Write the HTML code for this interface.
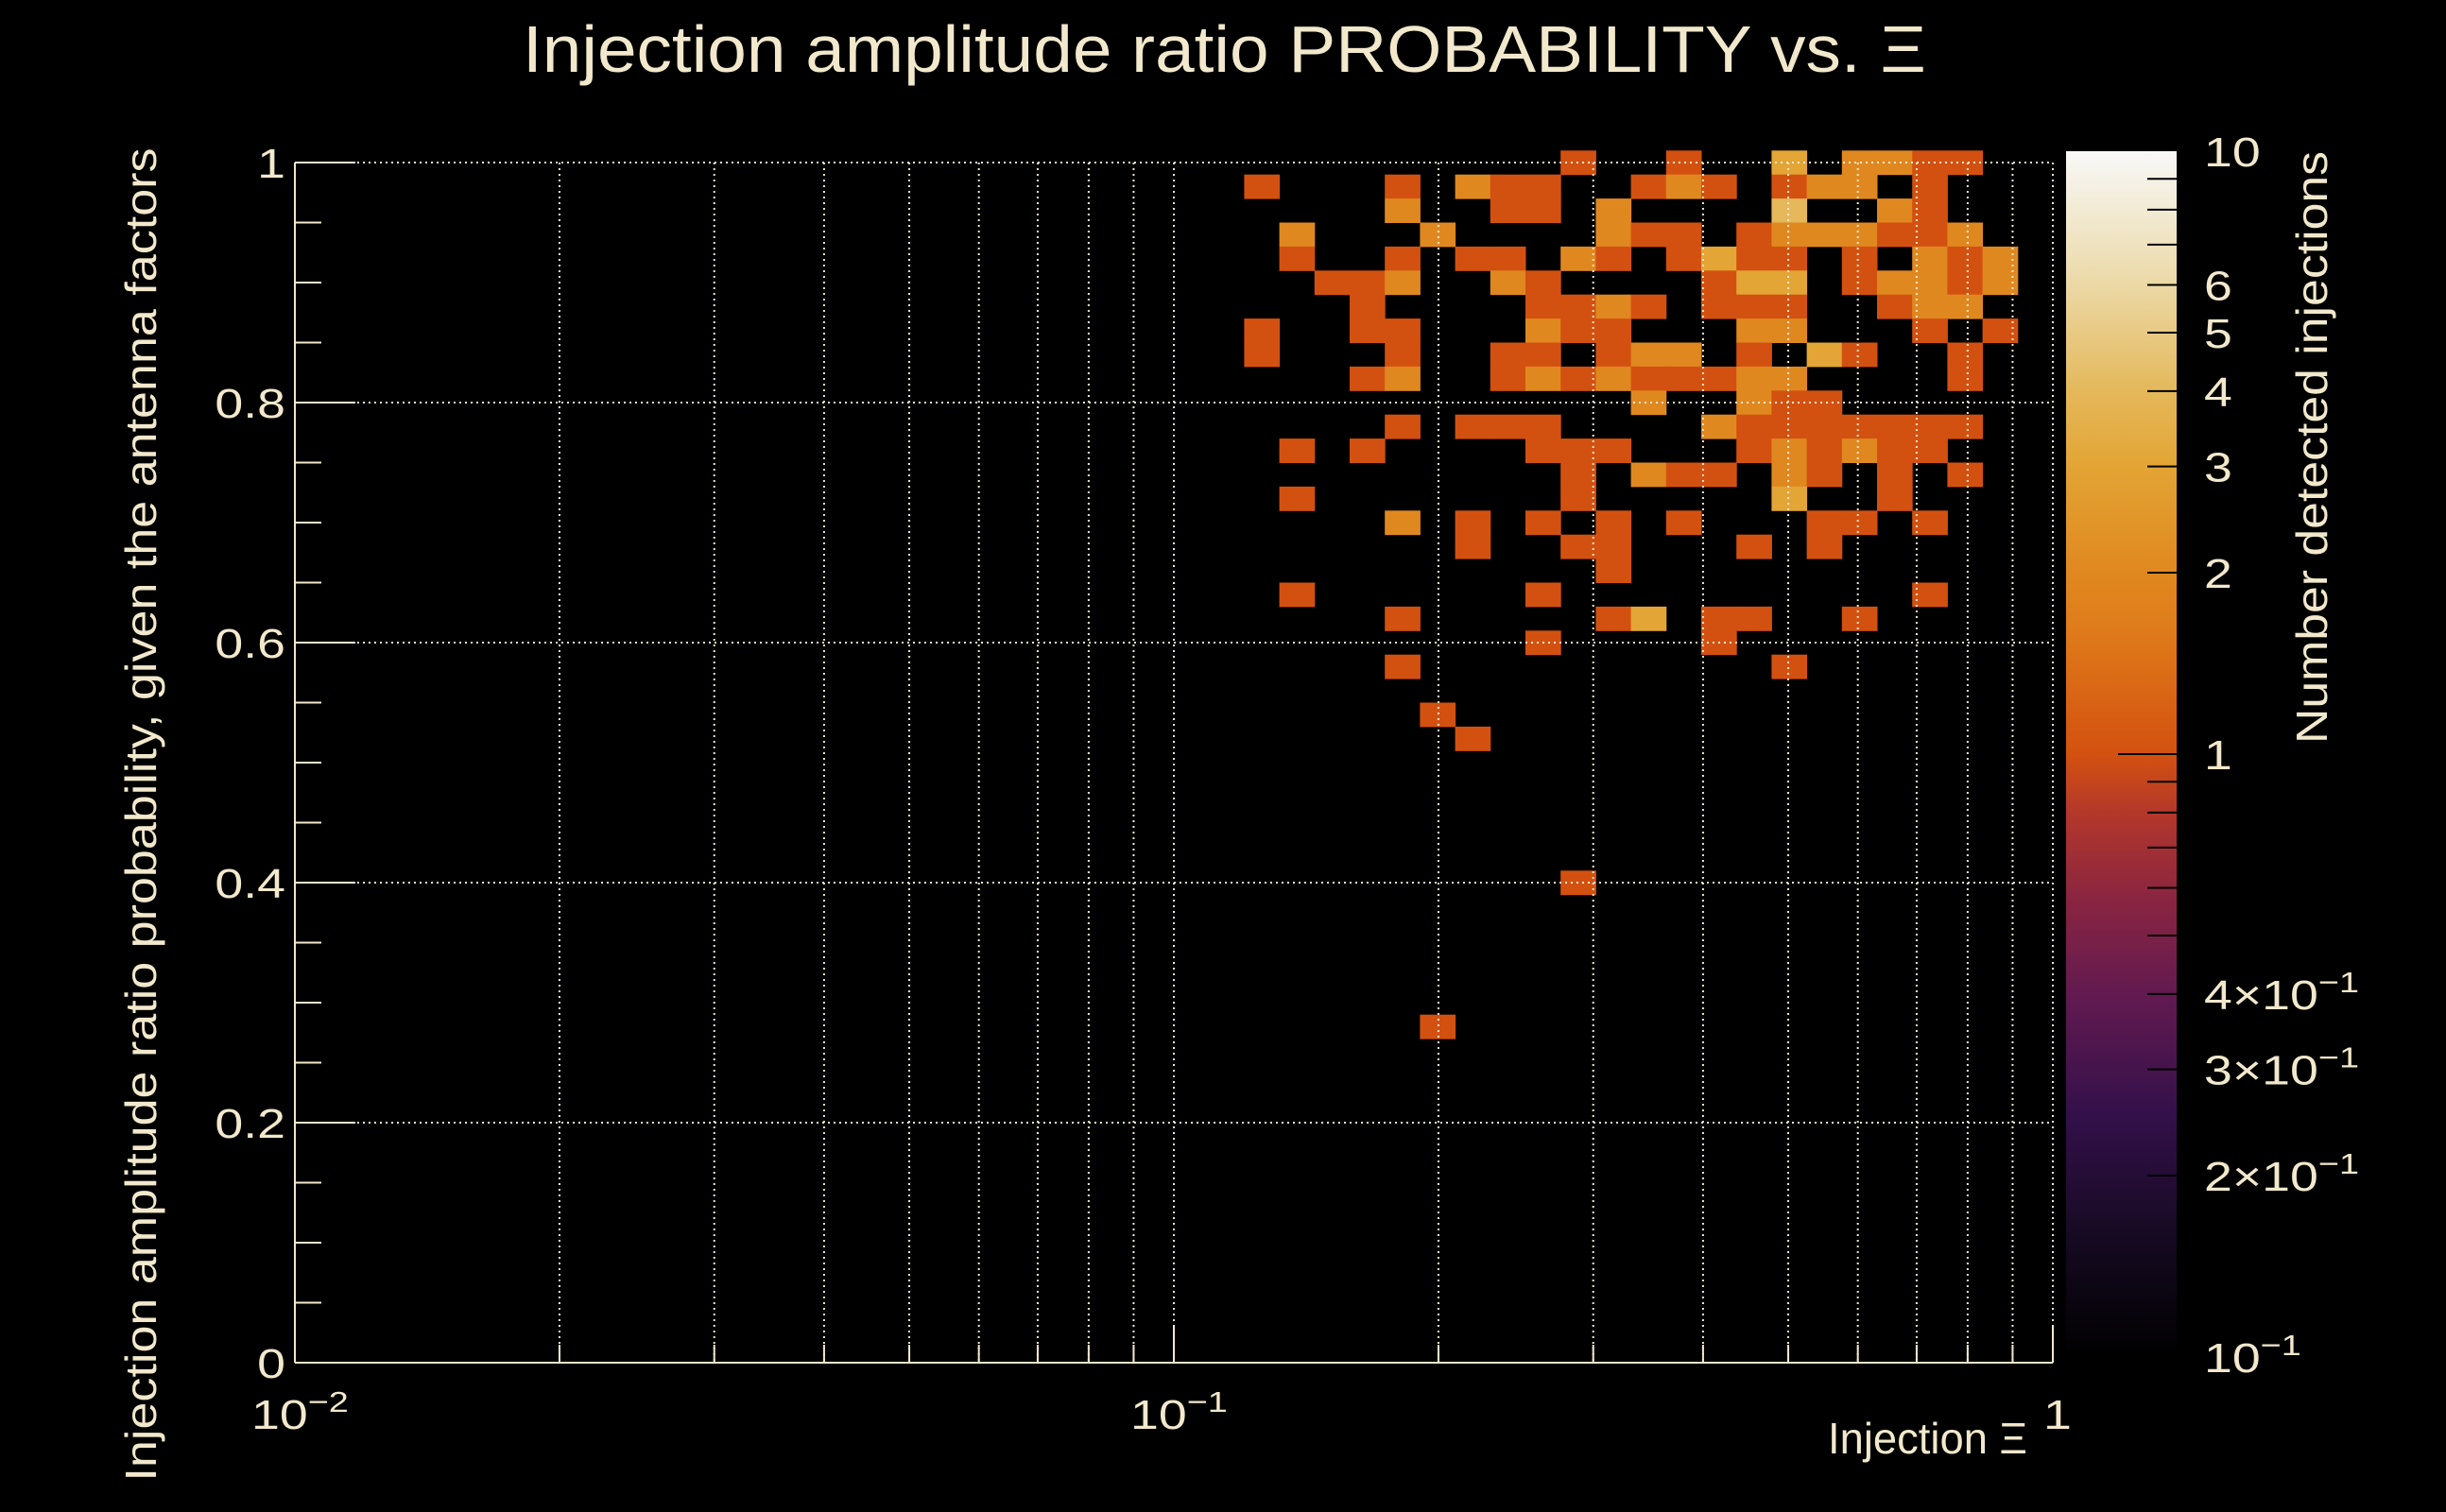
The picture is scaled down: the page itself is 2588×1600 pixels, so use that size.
<!DOCTYPE html>
<html><head><meta charset="utf-8">
<style>
html,body{margin:0;padding:0;background:#000;}
svg{display:block;}
text{font-family:"Liberation Sans",sans-serif;fill:#f2e8cc;}
</style></head>
<body>
<svg id="chart" width="2588" height="1600" viewBox="0 0 2588 1600" xmlns="http://www.w3.org/2000/svg">
<defs>
<linearGradient id="cbar" x1="0" y1="1" x2="0" y2="0">
<stop offset="0" stop-color="#000000"/>
<stop offset="0.1" stop-color="#160a22"/>
<stop offset="0.2" stop-color="#33104a"/>
<stop offset="0.3" stop-color="#621a50"/>
<stop offset="0.38" stop-color="#8a2541"/>
<stop offset="0.45" stop-color="#b3372b"/>
<stop offset="0.5" stop-color="#d35110"/>
<stop offset="0.6" stop-color="#df7a1a"/>
<stop offset="0.65" stop-color="#e08820"/>
<stop offset="0.74" stop-color="#e3a535"/>
<stop offset="0.8" stop-color="#e4b85a"/>
<stop offset="0.9" stop-color="#ecdcae"/>
<stop offset="1" stop-color="#f8f8f8"/>
</linearGradient>
</defs>
<rect x="0" y="0" width="2588" height="1600" fill="#000"/>
<text x="553" y="76" font-size="70" textLength="1485" lengthAdjust="spacingAndGlyphs">Injection amplitude ratio PROBABILITY vs.  Ξ</text>
<g id="cells"></g>
<g id="grid"></g>
<g id="axes"></g>
<text transform="translate(165,862) rotate(-90)" text-anchor="middle" font-size="46" textLength="1411" lengthAdjust="spacingAndGlyphs">Injection amplitude ratio probability, given the antenna factors</text>
<text x="1934" y="1538" font-size="46" textLength="211" lengthAdjust="spacingAndGlyphs">Injection Ξ</text>
<rect x="2186" y="160" width="117" height="1276" fill="url(#cbar)"/>
<g id="cbticks"></g>
<text transform="translate(2462,160) rotate(-90)" text-anchor="end" font-size="46" textLength="627" lengthAdjust="spacingAndGlyphs">Number detected injections</text>
</svg>
<script>
// x bin lower edges (log10 of Xi), y bin centres, counts
const cellLogX = [
-0.56,-0.44,-0.32,-0.24,-0.20,-0.16,-0.12,
-0.92,-0.76,-0.68,-0.64,-0.60,-0.48,-0.44,-0.40,-0.32,-0.28,-0.24,-0.16,
-0.76,-0.64,-0.60,-0.52,-0.32,-0.20,-0.16,
-0.88,-0.72,-0.52,-0.48,-0.44,-0.36,-0.32,-0.28,-0.24,-0.20,-0.16,-0.12,
-0.88,-0.76,-0.68,-0.64,-0.56,-0.52,-0.44,-0.40,-0.36,-0.32,-0.24,-0.16,-0.12,-0.08,
-0.84,-0.80,-0.76,-0.64,-0.60,-0.40,-0.36,-0.32,-0.24,-0.20,-0.16,-0.12,-0.08,
-0.80,-0.60,-0.56,-0.52,-0.48,-0.40,-0.36,-0.32,-0.20,-0.16,-0.12,
-0.92,-0.80,-0.76,-0.60,-0.56,-0.52,-0.36,-0.32,-0.16,-0.08,
-0.92,-0.76,-0.64,-0.60,-0.52,-0.48,-0.44,-0.36,-0.28,-0.24,-0.12,
-0.80,-0.76,-0.64,-0.60,-0.56,-0.52,-0.48,-0.44,-0.40,-0.36,-0.32,-0.12,
-0.48,-0.36,-0.32,-0.28,
-0.76,-0.68,-0.64,-0.60,-0.40,-0.36,-0.32,-0.28,-0.24,-0.20,-0.16,-0.12,
-0.88,-0.80,-0.60,-0.56,-0.52,-0.36,-0.32,-0.28,-0.24,-0.20,-0.16,
-0.56,-0.48,-0.44,-0.40,-0.32,-0.28,-0.20,-0.12,
-0.88,-0.56,-0.32,-0.20,
-0.76,-0.68,-0.60,-0.52,-0.44,-0.28,-0.24,-0.16,
-0.68,-0.56,-0.52,-0.36,-0.28,
-0.52,
-0.88,-0.60,-0.16,
-0.76,-0.52,-0.48,-0.40,-0.36,-0.24,
-0.60,-0.40,
-0.76,-0.32,
-0.72,
-0.68,
-0.56,
-0.72
];
const cellY = [
1,1,1,1,1,1,1,
0.98,0.98,0.98,0.98,0.98,0.98,0.98,0.98,0.98,0.98,0.98,0.98,
0.96,0.96,0.96,0.96,0.96,0.96,0.96,
0.94,0.94,0.94,0.94,0.94,0.94,0.94,0.94,0.94,0.94,0.94,0.94,
0.92,0.92,0.92,0.92,0.92,0.92,0.92,0.92,0.92,0.92,0.92,0.92,0.92,0.92,
0.90,0.90,0.90,0.90,0.90,0.90,0.90,0.90,0.90,0.90,0.90,0.90,0.90,
0.88,0.88,0.88,0.88,0.88,0.88,0.88,0.88,0.88,0.88,0.88,
0.86,0.86,0.86,0.86,0.86,0.86,0.86,0.86,0.86,0.86,
0.84,0.84,0.84,0.84,0.84,0.84,0.84,0.84,0.84,0.84,0.84,
0.82,0.82,0.82,0.82,0.82,0.82,0.82,0.82,0.82,0.82,0.82,0.82,
0.80,0.80,0.80,0.80,
0.78,0.78,0.78,0.78,0.78,0.78,0.78,0.78,0.78,0.78,0.78,0.78,
0.76,0.76,0.76,0.76,0.76,0.76,0.76,0.76,0.76,0.76,0.76,
0.74,0.74,0.74,0.74,0.74,0.74,0.74,0.74,
0.72,0.72,0.72,0.72,
0.70,0.70,0.70,0.70,0.70,0.70,0.70,0.70,
0.68,0.68,0.68,0.68,0.68,
0.66,
0.64,0.64,0.64,
0.62,0.62,0.62,0.62,0.62,0.62,
0.60,0.60,
0.58,0.58,
0.54,
0.52,
0.40,
0.28
];
const cellCount = [
1,1,3,2,2,1,1,
1,1,2,1,1,1,2,1,1,2,2,1,
2,1,1,2,4,2,1,
2,2,2,1,1,1,2,2,2,1,1,2,
1,1,1,1,2,1,1,3,1,1,1,2,1,2,
1,1,2,2,1,1,3,3,1,2,2,1,2,
1,1,1,2,1,1,1,1,1,2,2,
1,1,1,2,1,1,2,2,1,1,
1,1,1,1,1,2,2,1,3,1,1,
1,2,1,2,1,2,1,1,1,2,2,1,
2,2,1,1,
1,1,1,1,2,1,1,1,1,1,1,1,
1,1,1,1,1,1,2,1,2,1,1,
1,2,1,1,2,1,1,1,
1,1,3,1,
2,1,1,1,1,1,1,1,
1,1,1,1,1,
1,
1,1,1,
1,1,3,1,1,1,
1,1,
1,1,
1,
1,
1,
1
];
const yTickVals = [0, 0.2, 0.4, 0.6, 0.8, 1];
const yTickLabels = ["0", "0.2", "0.4", "0.6", "0.8", "1"];
const zTickVals = [10, 6, 5, 4, 3, 2, 1, 0.4, 0.3, 0.2, 0.1];

const NS = "http://www.w3.org/2000/svg";
const X0 = 312, X1 = 2172, Y0 = 1442, Y1 = 172;
const BINW = 0.04, BINH = 0.02;
const STRETCH = 1.22;
function xPos(logv){ return X0 + (logv + 2) / 2 * (X1 - X0); }
function yPos(v){ return Y0 - v * (Y0 - Y1); }
const ZT = 160, ZB = 1436;
function zPos(v){ return ZB - (Math.log10(v) + 1) / 2 * (ZB - ZT); }
const stops = [[0,[0,0,0]],[0.1,[22,10,34]],[0.2,[51,16,74]],[0.3,[98,26,80]],[0.38,[138,37,65]],[0.45,[179,55,43]],[0.5,[211,81,16]],[0.6,[223,122,26]],[0.65,[224,136,32]],[0.74,[227,165,53]],[0.8,[228,184,90]],[0.9,[236,220,174]],[1,[248,248,248]]];
function color(n){
  let t = (Math.log10(n) + 1) / 2; t = Math.max(0, Math.min(1, t));
  for (let i = 1; i < stops.length; i++){
    if (t <= stops[i][0]){
      const a = stops[i-1], b = stops[i], f = (t - a[0]) / (b[0] - a[0]);
      const c = a[1].map((v, k) => Math.round(v + (b[1][k] - v) * f));
      return "rgb(" + c.join(",") + ")";
    }
  }
  return "rgb(248,248,248)";
}
function mk(tag, attrs, parent){
  const el = document.createElementNS(NS, tag);
  for (const k in attrs) el.setAttribute(k, attrs[k]);
  parent.appendChild(el);
  return el;
}
function stretch(t, anchorRight){
  const w = t.getComputedTextLength();
  const x = parseFloat(t.getAttribute("x"));
  const nw = w * STRETCH;
  t.setAttribute("transform", "translate(" + x + ",0) scale(" + STRETCH + ",1) translate(" + (-x) + ",0)");
}
const cells = document.getElementById("cells");
for (let i = 0; i < cellCount.length; i++){
  const x = xPos(cellLogX[i]), x2 = xPos(cellLogX[i] + BINW);
  const yt = yPos(cellY[i] + BINH / 2), yb = yPos(cellY[i] - BINH / 2);
  const r = mk("rect", {x: x, y: yt, width: x2 - x + 0.5, height: yb - yt + 0.5, fill: color(cellCount[i])}, cells);
  
  
}
const grid = document.getElementById("grid");
const gs = {stroke: "#f2e8cc", "stroke-width": 2, "stroke-dasharray": "2 4"};
for (let d = -2; d < 0; d++){
  for (let m = 1; m <= 9; m++){
    const lv = d + Math.log10(m);
    if (lv <= -2) continue;
    const x = xPos(lv);
    const g = mk("line", Object.assign({x1: x, x2: x, y1: Y1, y2: Y0}, gs), grid);
    
    
  }
}
{
  const g = mk("line", Object.assign({x1: X1, x2: X1, y1: Y1, y2: Y0}, gs), grid);
  
  
}
yTickVals.forEach(v => {
  if (v === 0) return;
  const y = yPos(v);
  const g = mk("line", Object.assign({x1: X0, x2: X1, y1: y, y2: y}, gs), grid);
  
  
});
const axes = document.getElementById("axes");
const as = {stroke: "#f2e8cc", "stroke-width": 2};
let ax = mk("line", Object.assign({x1: X0, x2: X0, y1: Y1, y2: Y0}, as), axes);


ax = mk("line", Object.assign({x1: X0, x2: X1, y1: Y0, y2: Y0}, as), axes);


for (let k = 0; k <= 20; k++){
  const v = k * 0.05, y = yPos(v), major = (k % 4 === 0);
  const t = mk("line", Object.assign({x1: X0, x2: X0 + (major ? 64 : 28), y1: y, y2: y}, as), axes);
  
  
}
yTickVals.forEach((v, i) => {
  const t = mk("text", {x: 302, y: yPos(v) + 16, "text-anchor": "end", "font-size": 44}, axes);
  t.textContent = yTickLabels[i];
  
  
  stretch(t);
});
for (let d = -2; d <= 0; d++){
  for (let m = 1; m <= 9; m++){
    const lv = d + Math.log10(m);
    if (lv > 0) break;
    const x = xPos(lv);
    const t = mk("line", Object.assign({x1: x, x2: x, y1: Y0, y2: Y0 - (m === 1 ? 38 : 19)}, as), axes);
    
    
  }
}
[[-2, "10", "−2"], [-1, "10", "−1"], [0, "1", ""]].forEach(([lv, base, ex]) => {
  const x = xPos(lv);
  const t = mk("text", {x: base === "1" ? x - 10 : x - 46, y: 1512, "font-size": 44}, axes);
  t.textContent = base;
  if (ex){
    const s = mk("tspan", {dy: -18, "font-size": 31}, t);
    s.textContent = ex;
  }
  
  
  stretch(t);
});
const cb = document.getElementById("cbticks");
for (let d = -1; d <= 0; d++){
  for (let m = 2; m <= 9; m++){
    const v = m * Math.pow(10, d), y = zPos(v);
    const t = mk("line", {x1: 2272, x2: 2303, y1: y, y2: y, stroke: "#000", "stroke-width": 2}, cb);
    
    
  }
}
{
  const y = zPos(1);
  const t = mk("line", {x1: 2241, x2: 2303, y1: y, y2: y, stroke: "#000", "stroke-width": 2}, cb);
  
  
}
zTickVals.forEach(v => {
  const y = zPos(v) + 16;
  const t = mk("text", {x: 2332, y: y, "font-size": 44}, cb);
  if (v >= 1){ t.textContent = String(v); }
  else if (v === 0.1){
    t.textContent = "10";
    const s = mk("tspan", {dy: -18, "font-size": 31}, t); s.textContent = "−1";
  } else {
    t.textContent = Math.round(v * 10) + "×10";
    const s = mk("tspan", {dy: -18, "font-size": 31}, t); s.textContent = "−1";
  }
  
  
  stretch(t);
});
</script>
</body></html>
